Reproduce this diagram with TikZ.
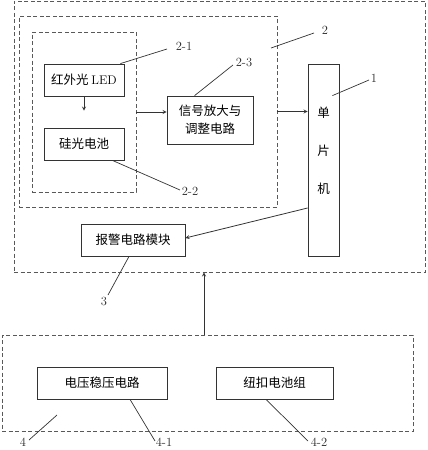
\documentclass[tikz,border=0pt]{standalone}
\usepackage{fontspec}
\newfontfamily\cjk{Noto Sans CJK SC}
\usetikzlibrary{calc}
\begin{document}
\begin{tikzpicture}[x=1pt, y=-1pt, >=stealth, line width=0.8pt, draw=black!80,
	font=\fontsize{12.5pt}{18pt}\selectfont,
	blk/.style={draw=black!80, rectangle, inner sep=0pt, align=center, font=\fontsize{12.5pt}{18pt}\selectfont\cjk},
	grp/.style={draw=black!65, dash pattern=on 4pt off 2.5pt, rectangle, inner sep=0pt},
	tag/.style={inner sep=1pt, text=black!85},
	lead/.style={black!80, line width=0.7pt}]
	\useasboundingbox (0,0) rectangle (428,450);
	% frames
	\node[grp, minimum width=411pt, minimum height=271pt] (top) at (219.5,136.5) {};
	\node[grp, minimum width=258pt, minimum height=191pt] (G2) at (148,111.5) {};
	\node[grp, minimum width=104pt, minimum height=160pt] (G21) at (84,112) {};
	\node[grp, minimum width=411pt, minimum height=96pt] (G4) at (207.5,383) {};
	% blocks
	\node[blk, minimum width=80pt, minimum height=32pt] (led) at (84,80) {红外光 {\rmfamily LED}};
	\node[blk, minimum width=80pt, minimum height=32pt] (cell) at (84,144) {硅光电池};
	\node[blk, minimum width=86pt, minimum height=48pt] (amp) at (210,120) {信号放大与\\调整电路};
	\node[blk, minimum width=31pt, minimum height=192pt] (mcu) at (323.5,160) {};
	\node[font=\fontsize{12.5pt}{16pt}\selectfont\cjk, align=center] (mcutxt) at (323.5,150.5) {单\\[22pt]片\\[22pt]机};
	\node[blk, minimum width=104pt, minimum height=32pt] (alarm) at (133,240) {报警电路模块};
	\node[blk, minimum width=130pt, minimum height=32pt] (reg) at (102,383) {电压稳压电路};
	\node[blk, minimum width=117pt, minimum height=32pt] (bat) at (274.5,383) {纽扣电池组};
	% signal flow
	\coordinate (up) at ($(G4.north)+(-3.5,0)$);
	\draw[->, shorten >=17pt] (led.south) -- (cell.north);
	\draw[->] (G21.east) -- (G21.east -| amp.west);
	\draw[->] (G2.east) -- (G2.east -| mcu.west);
	\draw[->] ($(mcu.west)+(0,48)$) -- ($(alarm.east)+(0,-2)$);
	\draw[->] (up) -- (up |- top.south);
	% reference numbers
	\node[tag] (n21) at (184,46) {2-1};
	\node[tag] (n23) at (244,62) {2-3};
	\node[tag] (n2) at (325,30) {2};
	\node[tag] (n1) at (374,78) {1};
	\node[tag] (n22) at (190,191) {2-2};
	\node[tag] (n3) at (104,301) {3};
	\node[tag] (n4) at (23,442) {4};
	\node[tag] (n41) at (164,442) {4-1};
	\node[tag] (n42) at (319,442) {4-2};
	\draw[lead] ($(led.north east)+(-4,0)$) -- (167,49);
	\draw[lead] ($(amp.north west)+(28,0)$) -- (233,65);
	\draw[lead] (271,48) -- (314,33);
	\draw[lead] ($(mcu.north east)+(-7,32)$) -- (369,80);
	\draw[lead] ($(cell.south east)+(-12,0)$) -- (180,190);
	\draw[lead] ($(alarm.south)+(-4,0)$) -- (108,295);
	\draw[lead] (57,415) -- (29,440);
	\draw[lead] ($(reg.south)+(28,0)$) -- (155,441);
	\draw[lead] ($(bat.south)+(-8.5,0)$) -- (308,441);
\end{tikzpicture}
\end{document}
